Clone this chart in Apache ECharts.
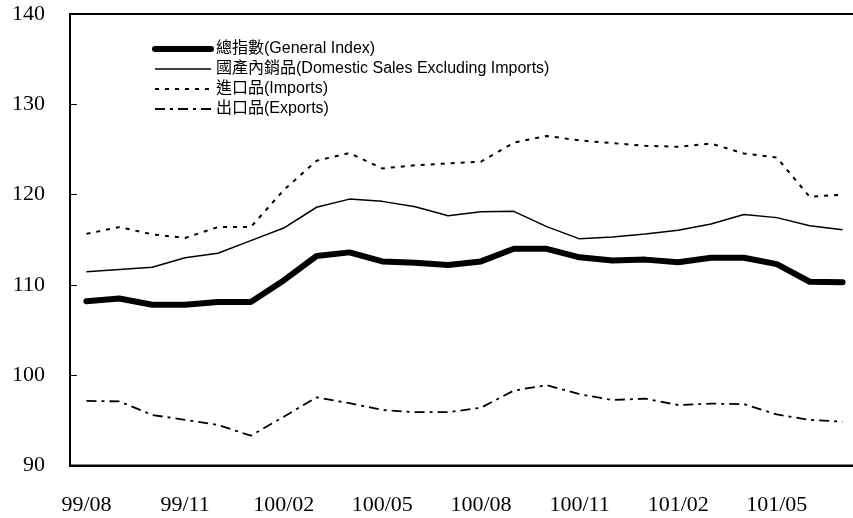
<!DOCTYPE html>
<html>
<head>
<meta charset="utf-8">
<script src="https://cdn.jsdelivr.net/npm/echarts@6/dist/echarts.min.js"></script>
<style>
html,body{margin:0;padding:0;background:#fff;}
#chart{width:853px;height:518px;}
</style>
</head>
<body>
<div id="chart"></div>
<script>
const categories = ["99/08","99/09","99/10","99/11","99/12","100/01","100/02","100/03","100/04","100/05","100/06","100/07","100/08","100/09","100/10","100/11","100/12","101/01","101/02","101/03","101/04","101/05","101/06","101/07"];
const seriesNames = ["總指數(General Index)","國產內銷品(Domestic Sales Excluding Imports)","進口品(Imports)","出口品(Exports)"];
const generalIndex = [108.2,108.5,107.8,107.8,108.1,108.1,110.5,113.2,113.6,112.6,112.45,112.2,112.6,114.0,114.0,113.05,112.7,112.8,112.5,113.0,113.0,112.3,110.35,110.3];
const domesticSales = [111.45,111.7,111.95,113.0,113.5,114.9,116.3,118.6,119.5,119.25,118.65,117.65,118.1,118.15,116.45,115.1,115.3,115.65,116.05,116.75,117.8,117.45,116.55,116.1];
const imports = [115.65,116.4,115.6,115.2,116.4,116.4,120.5,123.75,124.6,122.9,123.25,123.45,123.65,125.75,126.5,126.0,125.7,125.4,125.3,125.65,124.55,124.1,119.75,120.0];
const exportsIdx = [97.15,97.1,95.6,95.05,94.5,93.3,95.4,97.55,96.9,96.15,95.9,95.9,96.4,98.3,98.9,97.9,97.25,97.4,96.7,96.85,96.8,95.65,95.05,94.85];
const yTicks = {min: 90, max: 140, interval: 10};

const chart = echarts.init(document.getElementById('chart'));
const serif = 'Liberation Serif, Times New Roman, serif';
const sans = 'Liberation Sans, Arial, "Noto Sans CJK TC", sans-serif';
const styles = [
  {width: 6, type: 'solid'},
  {width: 1.5, type: 'solid'},
  {width: 2, type: [4, 6]},
  {width: 1.8, type: [10, 5, 3, 5]}
];
chart.setOption({
  animation: false,
  backgroundColor: '#fff',
  grid: {left: 70, top: 14, right: -6, bottom: 52.5, outerBoundsMode: 'none', containLabel: false,
         show: true, borderColor: '#000', borderWidth: 2, backgroundColor: 'transparent'},
  legend: {
    orient: 'vertical', left: 152, top: 41, padding: 0, itemWidth: 56, itemHeight: 14, itemGap: 4,
    textStyle: {fontFamily: sans, fontSize: 16, color: '#000'},
    itemStyle: {opacity: 0},
    data: seriesNames.map((n, i) => ({name: n, itemStyle: {opacity: 0}, lineStyle: {color: '#000', width: styles[i].width, type: styles[i].type, cap: i === 0 ? 'round' : 'butt'}}))
  },
  xAxis: {
    type: 'category', data: categories, boundaryGap: true,
    axisLine: {lineStyle: {color: '#000', width: 2}},
    axisTick: {inside: true, length: 8, interval: 2, lineStyle: {color: '#000', width: 1}},
    axisLabel: {interval: 2, margin: 29, fontFamily: serif, fontSize: 22, color: '#000'},
    splitLine: {show: false}
  },
  yAxis: {
    type: 'value', min: yTicks.min, max: yTicks.max, interval: yTicks.interval,
    axisLine: {show: true, lineStyle: {color: '#000', width: 2}},
    axisTick: {show: true, inside: true, length: 7, lineStyle: {color: '#000', width: 1}},
    axisLabel: {margin: 25, fontFamily: serif, fontSize: 22, color: '#000'},
    splitLine: {show: false}
  },
  series: [
    {name: seriesNames[0], type: 'line', data: generalIndex, symbol: 'none', z: 5,
     lineStyle: {color: '#000', width: styles[0].width, cap: 'round', join: 'round'}, itemStyle: {color: '#000'}},
    {name: seriesNames[1], type: 'line', data: domesticSales, symbol: 'none',
     lineStyle: {color: '#000', width: styles[1].width}, itemStyle: {color: '#000'}},
    {name: seriesNames[2], type: 'line', data: imports, symbol: 'none',
     lineStyle: {color: '#000', width: styles[2].width, type: styles[2].type}, itemStyle: {color: '#000'}},
    {name: seriesNames[3], type: 'line', data: exportsIdx, symbol: 'none',
     lineStyle: {color: '#000', width: styles[3].width, type: styles[3].type}, itemStyle: {color: '#000'}}
  ]
});
</script>
</body>
</html>
